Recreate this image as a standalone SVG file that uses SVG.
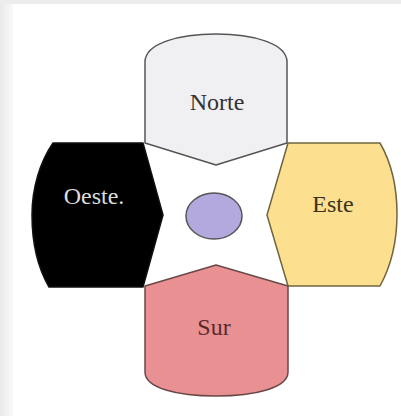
<svg xmlns="http://www.w3.org/2000/svg" width="401" height="416" viewBox="0 0 401 416">
<defs>
<linearGradient id="lg" x1="0" y1="0" x2="1" y2="0">
<stop offset="0" stop-color="#e9e9e9"/>
<stop offset="1" stop-color="#f9f9f9"/>
</linearGradient>
</defs>
<style>
.lbl{font-family:"Liberation Serif","DejaVu Serif",serif;font-size:24px;text-anchor:middle}
.sh{stroke-width:1.5;stroke-linejoin:round}
</style>
<rect width="401" height="416" fill="#ffffff"/>
<rect x="0" y="0" width="13" height="416" fill="url(#lg)"/>
<rect x="0" y="0" width="401" height="4" fill="#ececec"/>
<g id="connectors"/>
<g id="oeste">
<path class="sh" d="M53,143 L143,143 L163,215 L143,287 L49,287 C38,268 32,243 32,215 C32,188 40,162 53,143 Z" fill="#000000" stroke="#111"/>
<text class="lbl" x="94" y="204" fill="#dcdcdc">Oeste.</text>
</g>
<g id="este">
<path class="sh" d="M288,143 L380,143 C391,162 397,188 397,214 C397,242 391,266 380,286 L288,286 L267,215 Z" fill="#fde08f" stroke="#6f6540"/>
<text class="lbl" x="333" y="212" fill="#3a3420">Este</text>
</g>
<g id="norte">
<path class="sh" d="M145,143 L145,62 C145,43 180,34 216,34 C252,34 287,43 287,62 L287,143 L216,165 Z" fill="#f0f0f2" stroke="#555"/>
<text class="lbl" x="217" y="110" fill="#333">Norte</text>
</g>
<g id="sur">
<path class="sh" d="M145,286 L216,265 L288,286 L288,372 C288,388 255,396 216,396 C177,396 145,388 145,372 Z" fill="#e99092" stroke="#6a4848"/>
<text class="lbl" x="214" y="335" fill="#5a2a2c">Sur</text>
</g>
<g id="centro">
<ellipse cx="214" cy="216" rx="28" ry="23" fill="#b3a9de" stroke="#555" stroke-width="1.5"/>
</g>
</svg>
